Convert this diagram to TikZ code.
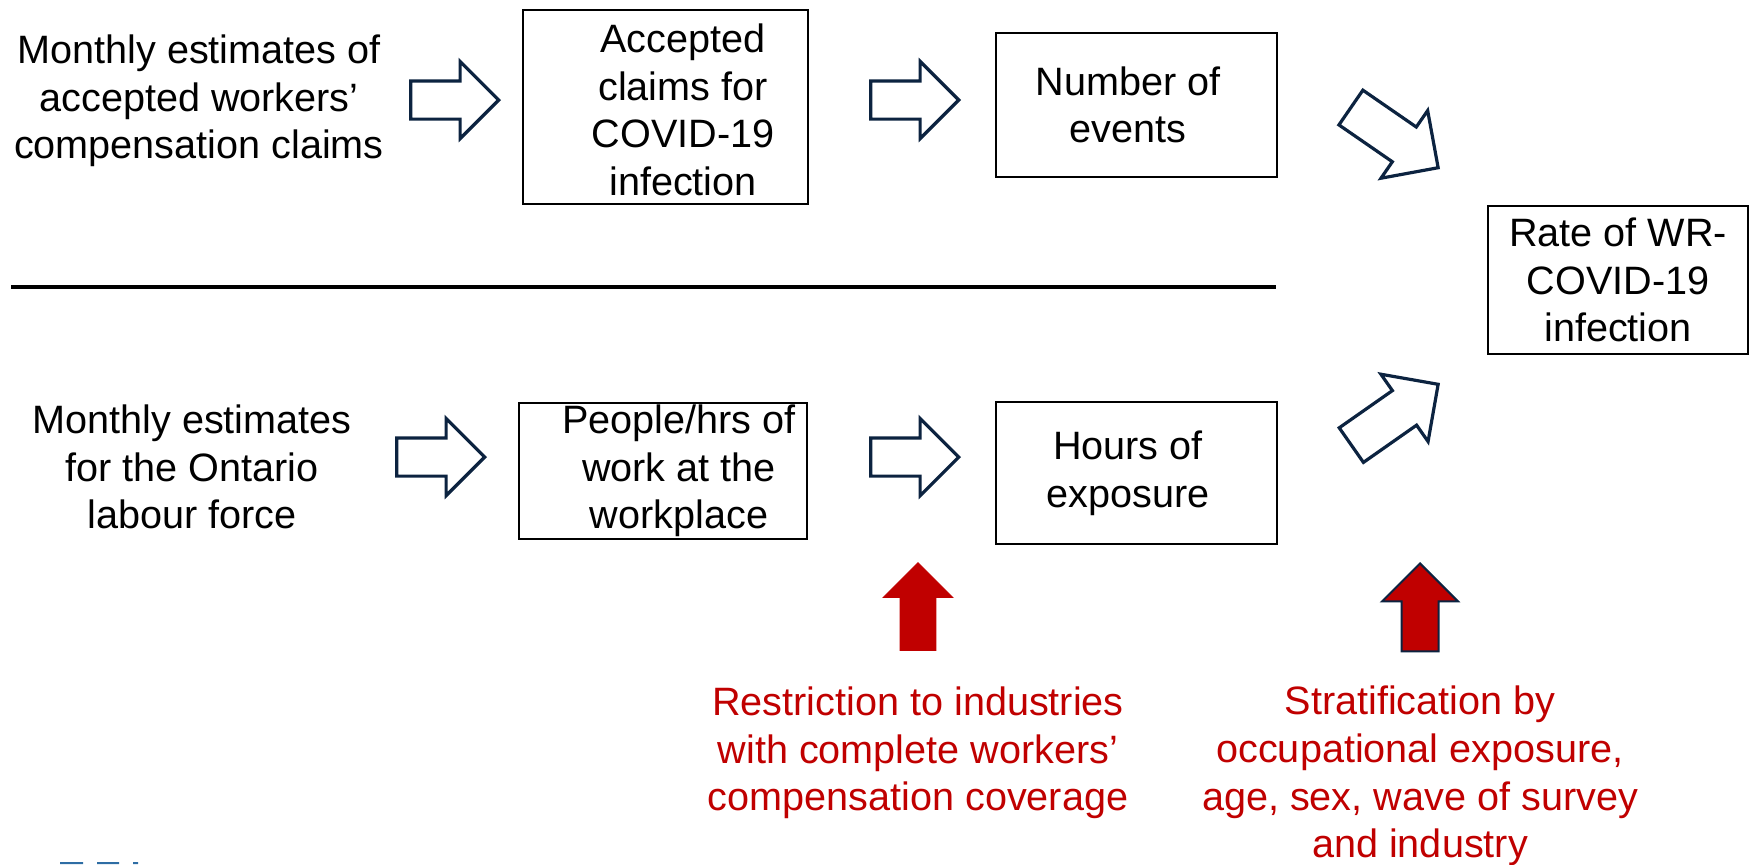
\documentclass[tikz,border=0pt]{standalone}
\usepackage{fontspec}
\setmainfont{Liberation Sans}
\usetikzlibrary{positioning, shapes.arrows}
\definecolor{navy}{RGB}{12,35,64}
\definecolor{darkred}{RGB}{192,0,0}
\definecolor{logoblue}{RGB}{46,109,164}

\tikzset{
  box/.style={draw, line width=1.4pt, inner sep=0pt, align=center},
  txt/.style={align=center, inner sep=0pt},
  barrow/.style={single arrow, draw=navy, line width=1.6pt, fill=white, inner sep=0pt,
    text height=17.5pt, text depth=0pt, single arrow head extend=9.75pt,
    minimum height=44pt, single arrow tip angle=90, anchor=tip},
  bigarrow/.style={barrow, text height=19.5pt, single arrow head extend=10pt, minimum height=53pt},
  redarrow/.style={barrow, fill=darkred, draw=darkred, line width=0.4pt, rotate=90}
}

\begin{document}
\begin{tikzpicture}[x=0.5pt,y=-0.5pt,font=\fontsize{19.8pt}{23.8pt}\selectfont,node distance=223pt,on grid]
\useasboundingbox (0,0) rectangle (1750,864);

\node[txt] (src1) at (199,101) {Monthly estimates of\\accepted workers’\\compensation claims};
\node[box,minimum width=142.5pt,minimum height=97pt,
  label={[txt,xshift=8.75pt,yshift=-1.5pt]center:Accepted\\claims for\\COVID-19\\infection}] (claims) at (665.5,107) {};
\node[box,minimum width=140.5pt,minimum height=72pt,
  label={[txt,xshift=-4.25pt]center:Number of\\events}] (events) at (1136.5,105) {};
\node[box,minimum width=130pt,minimum height=74pt] (rate) at (1618,280) {Rate of WR-\\COVID-19\\infection};

\node[txt] (src2) at (192,467) {Monthly estimates\\for the Ontario\\labour force};
\node[box,minimum width=144pt,minimum height=68pt,
  label={[txt,xshift=8pt]center:People/hrs of\\work at the\\workplace}] (people) at (663,471) {};
\node[box,minimum width=140.5pt,minimum height=71pt,
  label={[txt,xshift=-4.25pt]center:Hours of\\exposure}] (hours) [below=184pt of events] {};

\draw[line width=1.75pt] (11,287) -- (1276,287);

\node[barrow] (a1) at (501,100) {};
\node[barrow] (a2) at (961,100) {};
\node[barrow] (a3) at (487,457) {};
\node[barrow] (a4) at (961,457) {};
\node[bigarrow,rotate=-34.6] (d1) at (1440,169) {};
\node[bigarrow,rotate=35] (d2) at (1440,383) {};
\node[redarrow,single arrow head extend=8.5pt] (u1) at (918,562) {};
\node[redarrow,draw=navy,line width=1pt] (u2) at (1420,562) {};

\node[txt,text=darkred] (note1) at (918,753) {Restriction to industries\\with complete workers’\\compensation coverage};
\node[txt,text=darkred] (note2) at (1420,776) {Stratification by\\occupational exposure,\\age, sex, wave of survey\\and industry};

\fill[logoblue] (60,862) rectangle (83,864) (97,862) rectangle (119,864) (133,862) rectangle (138,864);
\end{tikzpicture}
\end{document}
